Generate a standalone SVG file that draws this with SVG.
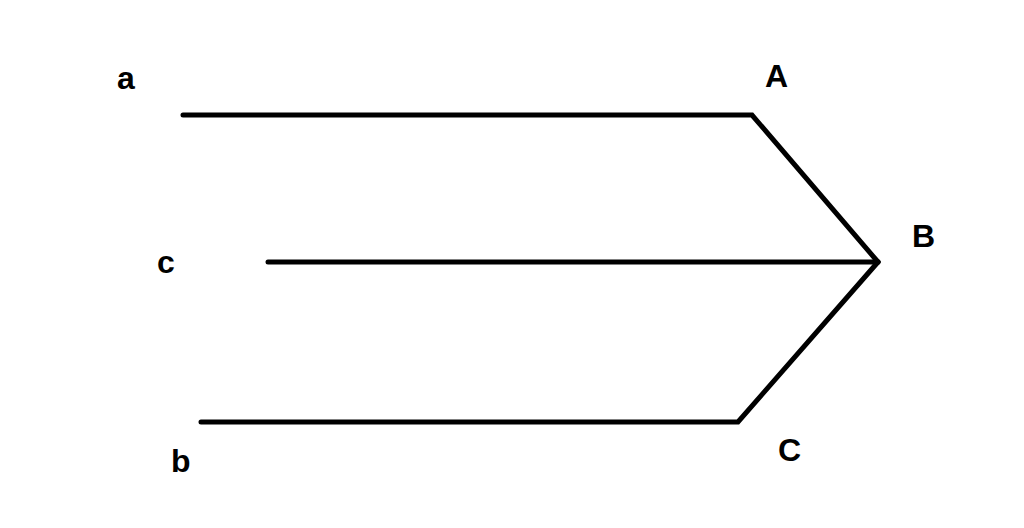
<svg xmlns="http://www.w3.org/2000/svg" width="1024" height="528" viewBox="0 0 1024 528">
<style>
.lbl{font-family:"Liberation Sans",Arial,sans-serif;font-weight:bold;font-size:32px;fill:#000}
.ln{fill:none;stroke:#000;stroke-width:5;stroke-linecap:round;stroke-linejoin:miter}
</style>
<rect width="1024" height="528" fill="#fff"/>
<g id="connectors">
<polyline class="ln" points="183,115 752,115 878,262"/>
<polyline class="ln" points="268,262 878,262"/>
<polyline class="ln" points="201,422 738,422 878,262"/>
</g>
<g id="label-a"><text class="lbl" x="117" y="89">a</text></g>
<g id="label-A"><text class="lbl" x="765" y="87">A</text></g>
<g id="label-B"><text class="lbl" x="912" y="247">B</text></g>
<g id="label-c"><text class="lbl" x="157" y="273">c</text></g>
<g id="label-b"><text class="lbl" x="171" y="472">b</text></g>
<g id="label-C"><text class="lbl" x="778" y="461">C</text></g>
</svg>
